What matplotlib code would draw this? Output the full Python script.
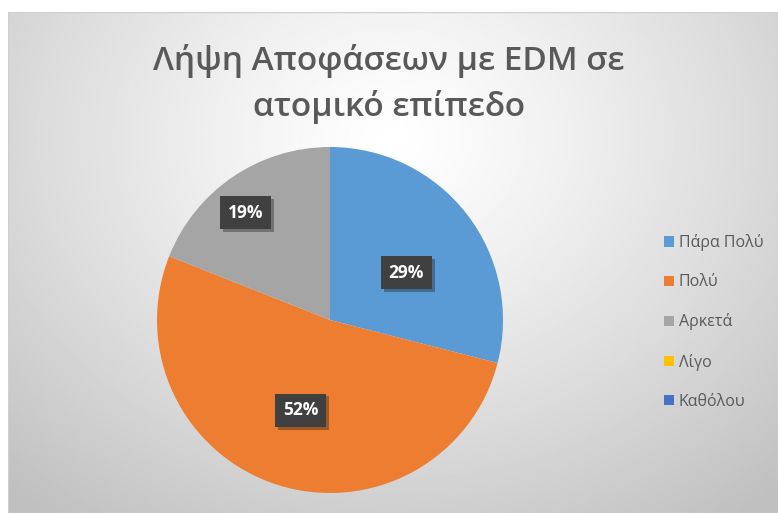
import numpy as np
import matplotlib

matplotlib.use("Agg")
import matplotlib.pyplot as plt
import matplotlib.patheffects as pe

plt.rcParams["font.family"] = ["Open Sans", "DejaVu Sans"]

# survey answers and share of respondents (%)
categories = ["Πάρα Πολύ", "Πολύ", "Αρκετά", "Λίγο", "Καθόλου"]
shares = [29, 52, 19, 0, 0]
colors = ["#5B9BD5", "#ED7D31", "#A5A5A5", "#FFC000", "#4472C4"]
title = "Λήψη Αποφάσεων με EDM σε\nατομικό επίπεδο"

W, H = 778, 513
fig = plt.figure(figsize=(W / 100, H / 100), dpi=100)
fig.patch.set_facecolor("white")

# chart area with radial gray gradient
bg = fig.add_axes([8 / W, 0, (W - 8) / W, (H - 12) / H])
yy, xx = np.mgrid[0:1:300j, 0:1:400j]
r = np.sqrt(((xx - 0.5) / 0.75) ** 2 + ((yy - 0.25) / 0.95) ** 2)
shade = 1.0 - 0.25 * np.clip(r, 0, 1) ** 1.2
bg.imshow(shade, cmap="gray", vmin=0, vmax=1, extent=[0, 1, 1, 0], aspect="auto")
bg.set_xlim(0, 1)
bg.set_ylim(1, 0)
bg.axis("off")
bg.add_patch(plt.Rectangle((0, 0), 1, 1, fill=False, ec="#cfcfcf", lw=1,
                           transform=bg.transAxes))

fig.text(0.5, 1 - 84 / H, title, ha="center", va="center", fontsize=24,
         fontweight="semibold", color="#595959", linespacing=1.45)

R = 173
ax = fig.add_axes([(330 - R) / W, (H - 320 - R) / H, 2 * R / W, 2 * R / H])
wedges, _ = ax.pie(shares, colors=colors, startangle=90, counterclock=False,
                   wedgeprops=dict(linewidth=0))
ax.set_xlim(-1, 1)
ax.set_ylim(-1, 1)
ax.set_aspect("equal")

# label position per slice: radius as fraction of pie radius, angle shift (deg)
label_r = [0.52, 0.55, 0.79]
label_shift = [-6, 0, 4]
for w, v, lr, sh in zip(wedges, shares, label_r, label_shift):
    if v == 0:
        continue
    ang = np.deg2rad((w.theta1 + w.theta2) / 2 + sh)
    t = ax.text(lr * np.cos(ang), lr * np.sin(ang), f"{v}%", ha="center",
                va="center", fontsize=12.5, fontweight="bold", color="white",
                bbox=dict(boxstyle="square,pad=0.45", fc="#404040", ec="none"))
    t.get_bbox_patch().set_path_effects(
        [pe.SimplePatchShadow(offset=(2, -2), alpha=0.35), pe.Normal()])

handles = [plt.Rectangle((0, 0), 1, 1, fc=c, ec="none") for c in colors]
fig.legend(handles, categories, loc="center left",
           bbox_to_anchor=(650 / W, 1 - 322 / H), frameon=False, fontsize=11.5,
           labelcolor="#595959", handlelength=0.6, handleheight=0.6,
           handletextpad=0.3, labelspacing=1.45)

fig.savefig("out.png", dpi=100)
